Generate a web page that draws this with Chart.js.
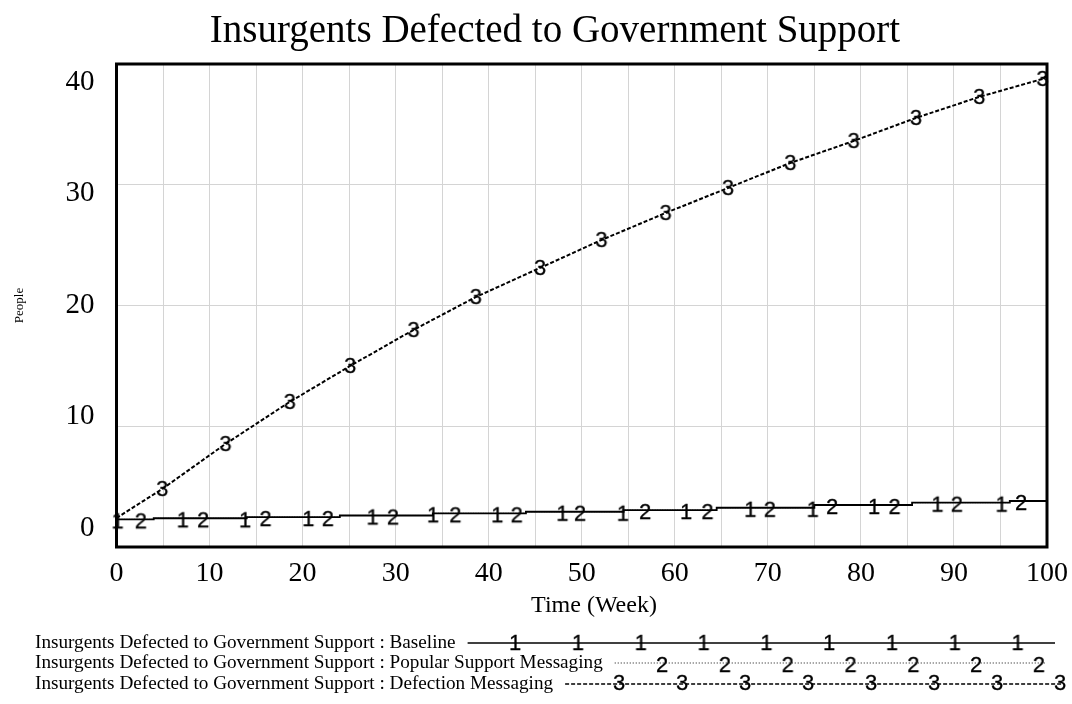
<!DOCTYPE html>
<html>
<head>
<meta charset="utf-8">
<script src="https://cdn.jsdelivr.net/npm/chart.js@4.4.0/dist/chart.umd.min.js"></script>
<style>
  html, body { margin: 0; padding: 0; background: #ffffff; }
  #wrap { width: 1072px; height: 704px; }
  canvas { display: block; }
</style>
</head>
<body>
<div id="wrap"><canvas id="c" width="1072" height="704"></canvas></div>
<script>
// ---------------- data ----------------
const chartTitle = 'Insurgents Defected to Government Support';
const xTitle = 'Time (Week)';
const yTitle = 'People';
const seriesNames = [
  'Insurgents Defected to Government Support : Baseline',
  'Insurgents Defected to Government Support : Popular Support Messaging',
  'Insurgents Defected to Government Support : Defection Messaging'
];
const xTickValues = [0, 5, 10, 15, 20, 25, 30, 35, 40, 45, 50, 55, 60, 65, 70, 75, 80, 85, 90, 95, 100];
const yTickValues = [0, 10, 20, 30, 40];

// Baseline (step changes)
const baselineTimes  = [0, 4, 14, 24, 34, 44, 54.5, 64.5, 75, 85.5, 96, 100];
const baselineValues = [2.29, 2.38, 2.48, 2.61, 2.79, 2.92, 3.06, 3.25, 3.48, 3.67, 3.81, 3.81];
// Popular Support Messaging (coincides with baseline)
const popularTimes  = [0, 4, 14, 24, 34, 44, 54.5, 64.5, 75, 85.5, 96, 100];
const popularValues = [2.29, 2.38, 2.48, 2.61, 2.79, 2.92, 3.06, 3.25, 3.48, 3.67, 3.81, 3.81];
// Defection Messaging
const defectionTimes  = [0, 4.9, 11.7, 18.6, 25.1, 31.9, 38.6, 45.5, 52.1, 59.0, 65.7, 72.4, 79.2, 85.9, 92.7, 99.5, 100];
const defectionValues = [2.40, 4.80, 8.53, 12.01, 14.99, 17.97, 20.70, 23.11, 25.42, 27.66, 29.73, 31.80, 33.62, 35.53, 37.27, 38.76, 39.01];

// numbered line markers (time, value)
const baselineMarkTimes  = [0.1, 7.1, 13.8, 20.6, 27.5, 34.0, 40.9, 47.9, 54.4, 61.2, 68.1, 74.8, 81.4, 88.2, 95.1];
const baselineMarkValues = [2.29, 2.38, 2.38, 2.48, 2.61, 2.79, 2.79, 2.92, 2.92, 3.06, 3.25, 3.25, 3.48, 3.67, 3.67];
const popularMarkTimes   = [2.6, 9.3, 16.0, 22.7, 29.7, 36.4, 43.0, 49.8, 56.8, 63.5, 70.2, 76.9, 83.6, 90.3, 97.2];
const popularMarkValues  = [2.29, 2.38, 2.48, 2.48, 2.61, 2.79, 2.79, 2.92, 3.06, 3.06, 3.25, 3.48, 3.48, 3.67, 3.81];
const defectionMarkTimes  = [4.9, 11.7, 18.6, 25.1, 31.9, 38.6, 45.5, 52.1, 59.0, 65.7, 72.4, 79.2, 85.9, 92.7, 99.5];
const defectionMarkValues = [4.80, 8.53, 12.01, 14.99, 17.97, 20.70, 23.11, 25.42, 27.66, 29.73, 31.80, 33.62, 35.53, 37.27, 38.76];

// ---------------- styles ----------------
const SERIF = '"Liberation Serif", "Times New Roman", "DejaVu Serif", serif';
const SANS = '"Liberation Sans", Arial, "DejaVu Sans", sans-serif';
const GRID = '#d4d4d4';
// label axis range (tick labels are spread differently from the grid, as in the original)
const yLabelMin = -1.70, yLabelMax = 41.61;

function pts(xs, ys) { return xs.map((x, i) => ({ x: x, y: ys[i] })); }

function digitCanvas(ch, dy) {
  const c = document.createElement('canvas');
  c.width = 28; c.height = 36;
  const g = c.getContext('2d');
  g.font = '22px ' + SANS;
  g.fillStyle = '#000';
  g.strokeStyle = '#000';
  g.lineWidth = 0.3;
  g.textAlign = 'center';
  g.textBaseline = 'middle';
  g.fillText(ch, 14, 18 + dy);
  g.strokeText(ch, 14, 18 + dy);
  return c;
}
const mark1 = digitCanvas('1', 3);
const mark2 = digitCanvas('2', 3);
const mark3 = digitCanvas('3', 1);

const lineCommon = { pointRadius: 0, pointHoverRadius: 0, fill: false, tension: 0 };
const markCommon = { showLine: false, pointRadius: 4, pointHoverRadius: 4, borderWidth: 0, clip: false };

const datasets = [
  Object.assign({ label: seriesNames[0], data: pts(baselineTimes, baselineValues),
    borderColor: '#000', borderWidth: 1.8, stepped: 'before' }, lineCommon),
  Object.assign({ label: seriesNames[1], data: pts(popularTimes, popularValues),
    borderColor: '#333', borderWidth: 1, borderDash: [1, 1.5], stepped: 'before' }, lineCommon),
  Object.assign({ label: seriesNames[2], data: pts(defectionTimes, defectionValues),
    borderColor: '#000', borderWidth: 2, borderDash: [4, 2] }, lineCommon),
  Object.assign({ label: 'm1', data: pts(baselineMarkTimes, baselineMarkValues), pointStyle: mark1 }, markCommon),
  Object.assign({ label: 'm2', data: pts(popularMarkTimes, popularMarkValues), pointStyle: mark2 }, markCommon),
  Object.assign({ label: 'm3', data: pts(defectionMarkTimes, defectionMarkValues), pointStyle: mark3 }, markCommon)
];

// ---------------- plugins ----------------
const framePlugin = {
  id: 'frame',
  afterDatasetsDraw(chart) {
    const a = chart.chartArea, ctx = chart.ctx;
    ctx.save();
    ctx.strokeStyle = '#000';
    ctx.lineWidth = 3;
    ctx.strokeRect(a.left, a.top, a.right - a.left, a.bottom - a.top);
    ctx.restore();
  }
};

const textPlugin = {
  id: 'texts',
  afterDraw(chart) {
    const ctx = chart.ctx;
    ctx.save();
    ctx.fillStyle = '#000';
    ctx.textAlign = 'center';
    ctx.textBaseline = 'alphabetic';
    ctx.font = '39px ' + SERIF;
    ctx.fillText(chartTitle, 555, 42);
    ctx.font = '24px ' + SERIF;
    ctx.textBaseline = 'middle';
    ctx.fillText(xTitle, 594, 606);
    ctx.restore();
  }
};

const legendRows = [
  { y: 643, dash: [], width: 1.5, color: '#000', mark: mark1, first: 515, step: 62.8, end: 1055, dy: -2 },
  { y: 663, dash: [1, 2], width: 1.2, color: '#111', mark: mark2, first: 662, step: 62.8, end: 1045, dy: 0 },
  { y: 684, dash: [4, 2], width: 1.5, color: '#000', mark: mark3, first: 619, step: 63.0, end: 1062, dy: -1 }
];
const legendPlugin = {
  id: 'vLegend',
  afterDraw(chart) {
    const ctx = chart.ctx;
    ctx.save();
    ctx.font = '19.2px ' + SERIF;
    ctx.fillStyle = '#000';
    ctx.textAlign = 'left';
    ctx.textBaseline = 'middle';
    legendRows.forEach((r, i) => {
      const txt = seriesNames[i];
      ctx.fillText(txt, 35, r.y);
      const start = 35 + ctx.measureText(txt).width + 12;
      ctx.save();
      ctx.strokeStyle = r.color;
      ctx.lineWidth = r.width;
      ctx.setLineDash(r.dash);
      ctx.beginPath();
      ctx.moveTo(start, r.y);
      ctx.lineTo(r.end, r.y);
      ctx.stroke();
      ctx.restore();
      for (let x = r.first; x <= r.end + 6; x += r.step) {
        ctx.drawImage(r.mark, x - r.mark.width / 2, r.y - r.mark.height / 2 + r.dy);
      }
    });
    ctx.restore();
  }
};

// ---------------- chart ----------------
new Chart(document.getElementById('c').getContext('2d'), {
  type: 'line',
  data: { datasets: datasets },
  options: {
    responsive: false,
    animation: false,
    devicePixelRatio: 1,
    events: [],
    layout: { padding: { top: 64, left: 0, right: 25, bottom: 77 } },
    plugins: { legend: { display: false }, tooltip: { enabled: false }, title: { display: false } },
    scales: {
      x: {
        type: 'linear', position: 'bottom', min: 0, max: 100,
        afterBuildTicks: s => { s.ticks = xTickValues.map(v => ({ value: v })); },
        ticks: {
          callback: v => (v % 10 === 0 ? String(v) : ''),
          autoSkip: false, maxRotation: 0, minRotation: 0, padding: 10,
          font: { family: SERIF, size: 28 }, color: '#000'
        },
        grid: { color: GRID, lineWidth: 1, drawTicks: false },
        border: { display: false },
        title: { display: false },
        afterFit: s => { s.height = 80; s.paddingLeft = 0; s.paddingRight = 0; }
      },
      y: {
        type: 'linear', position: 'left', min: 0, max: 40,
        afterBuildTicks: s => { s.ticks = yTickValues.map(v => ({ value: v })); },
        ticks: { display: false },
        grid: { color: GRID, lineWidth: 1, drawTicks: false },
        border: { display: false },
        afterFit: s => { s.width = 0; s.paddingTop = 0; s.paddingBottom = 0; }
      },
      yl: {
        type: 'linear', position: 'left', min: yLabelMin, max: yLabelMax,
        afterBuildTicks: s => { s.ticks = yTickValues.map(v => ({ value: v })); },
        ticks: { padding: 22, font: { family: SERIF, size: 29 }, color: '#000' },
        grid: { display: false, drawTicks: false },
        border: { display: false },
        title: { display: true, text: yTitle, color: '#000', font: { family: SERIF, size: 13 }, padding: { top: 12, bottom: 0 } },
        afterFit: s => { s.width = 116.5; s.paddingTop = 0; s.paddingBottom = 0; }
      }
    }
  },
  plugins: [framePlugin, textPlugin, legendPlugin]
});
</script>
</body>
</html>
